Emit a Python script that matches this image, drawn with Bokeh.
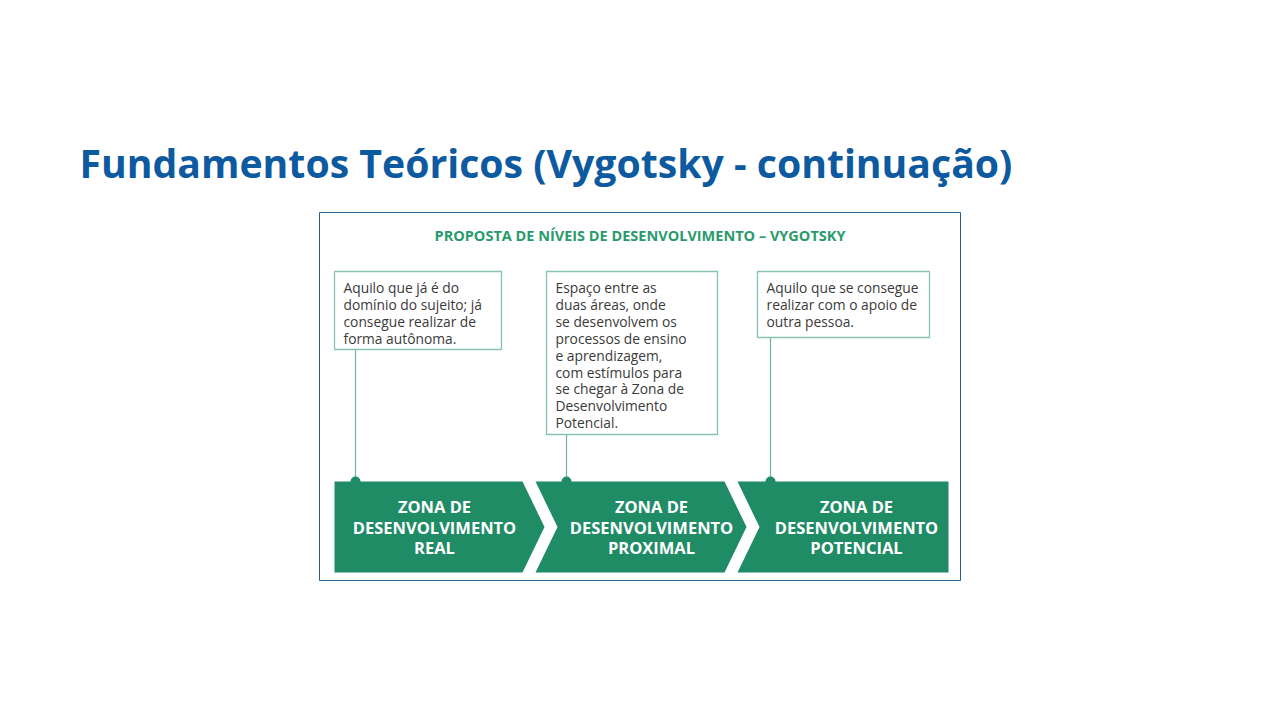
from bokeh.core.properties import value
from bokeh.embed import file_html
from bokeh.models import Range1d
from bokeh.plotting import figure
from bokeh.resources import INLINE

TITLE = "Fundamentos Teóricos (Vygotsky - continuação)"
HEADER = "PROPOSTA DE NÍVEIS DE DESENVOLVIMENTO – VYGOTSKY"

BOX_TEXTS = [
    ["Aquilo que já é do", "domínio do sujeito; já", "consegue realizar de", "forma autônoma."],
    ["Espaço entre as", "duas áreas, onde", "se desenvolvem os", "processos de ensino",
     "e aprendizagem,", "com estímulos para", "se chegar à Zona de",
     "Desenvolvimento", "Potencial."],
    ["Aquilo que se consegue", "realizar com o apoio de", "outra pessoa."],
]
ZONE_LABELS = [
    ["ZONA DE", "DESENVOLVIMENTO", "REAL"],
    ["ZONA DE", "DESENVOLVIMENTO", "PROXIMAL"],
    ["ZONA DE", "DESENVOLVIMENTO", "POTENCIAL"],
]

# layout (page pixels, y grows downwards)
FRAME = (319, 960, 212, 580)
BOX_LEFT = [334, 546, 757]
BOX_RIGHT = [501, 717, 929]
BOX_TOP = 271
BOX_BOTTOM = [349, 434, 337]
STEM_X = [355, 566, 770]
ARROW_LEFT = [334, 535, 737]
ARROW_RIGHT = [522, 724, 948]
ARROW_TOP, ARROW_BOTTOM = 481, 572
DEPTH = 22
TEXT_CENTER = [434, 651, 856]

GREEN = "#1f8c66"
TEAL = "#86c3b4"
BLUE = "#0d5aa0"

p = figure(width=1264, height=704, output_backend="svg", toolbar_location=None,
           x_range=Range1d(0, 1264), y_range=Range1d(704, 0), min_border=0)
p.axis.visible = False
p.grid.visible = False
p.outline_line_color = None

p.text(x=[79], y=[162], text=[TITLE], text_font=value("Open Sans"),
       text_font_style="bold", text_font_size="39.2px", text_color=BLUE,
       text_baseline="middle")

# image frame
p.quad(left=[FRAME[0]], right=[FRAME[1]], top=[FRAME[2]], bottom=[FRAME[3]],
       fill_color="white", line_color="#2b5d8a", line_width=1)

p.text(x=[(FRAME[0] + FRAME[1]) / 2], y=[235], text=[HEADER],
       text_font=value("Open Sans"), text_font_style="bold", text_font_size="14.5px",
       text_color="#2a9a6c", text_align="center", text_baseline="middle")

# stems from boxes to arrows
p.segment(x0=STEM_X, y0=BOX_BOTTOM, x1=STEM_X, y1=[ARROW_TOP] * 3,
          line_color="#6fb3a3", line_width=1.2)
p.circle(x=STEM_X, y=[ARROW_TOP] * 3, radius=5, fill_color=GREEN, line_color=None)

# description boxes
p.quad(left=BOX_LEFT, right=BOX_RIGHT, top=[BOX_TOP] * 3, bottom=BOX_BOTTOM,
       fill_color="white", line_color=TEAL, line_width=1.3)
for i, lines in enumerate(BOX_TEXTS):
    ys = [BOX_TOP + 16 + 16.9 * k for k in range(len(lines))]
    p.text(x=[BOX_LEFT[i] + 9] * len(lines), y=ys, text=lines,
           text_font=value("Open Sans"), text_font_size="13.8px", text_color="#3a3a3a",
           text_baseline="middle")

# chevron arrows
mid = (ARROW_TOP + ARROW_BOTTOM) / 2
xs, ys = [], []
for i in range(3):
    l, r = ARROW_LEFT[i], ARROW_RIGHT[i]
    px, py = [l, r], [ARROW_TOP, ARROW_TOP]
    if i < 2:
        px.append(r + DEPTH)
        py.append(mid)
    px += [r, l]
    py += [ARROW_BOTTOM, ARROW_BOTTOM]
    if i > 0:
        px.append(l + DEPTH)
        py.append(mid)
    xs.append(px)
    ys.append(py)
p.patches(xs=xs, ys=ys, fill_color=GREEN, line_color=None)

for i, lines in enumerate(ZONE_LABELS):
    p.text(x=[TEXT_CENTER[i]] * 3, y=[mid - 20.5, mid, mid + 20.5], text=lines,
           text_font=value("Open Sans"), text_font_style="bold", text_font_size="16.5px",
           text_color="white", text_align="center", text_baseline="middle")

open("out.html", "w").write(file_html(p, INLINE))
